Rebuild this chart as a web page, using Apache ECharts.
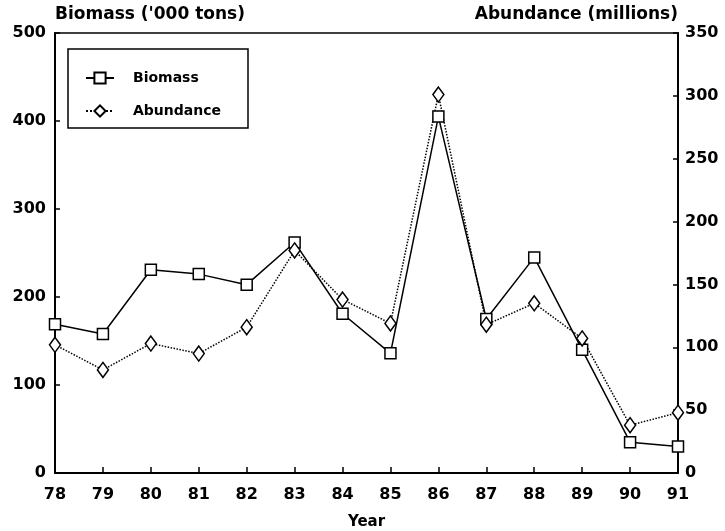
<!DOCTYPE html>
<html>
<head>
<meta charset="utf-8">
<script src="https://cdn.jsdelivr.net/npm/echarts@6/dist/echarts.min.js"></script>
<style>html,body{margin:0;padding:0;background:#fff}#c{width:725px;height:531px}</style>
</head>
<body>
<div id="c"></div>
<script>
const years = ['78','79','80','81','82','83','84','85','86','87','88','89','90','91'];
const biomass = [169, 158, 231, 226, 214, 262, 181, 136, 405, 175, 245, 140, 35, 30];
const abundance = [102, 82, 103, 95, 116, 177, 138, 119, 301, 118, 135, 107, 38, 48];
const leftTicks = [0, 100, 200, 300, 400, 500];
const rightTicks = [0, 50, 100, 150, 200, 250, 300, 350];

const FONT = 'DejaVu Sans';
const chart = echarts.init(document.getElementById('c'), null, {renderer: 'canvas'});
const lab = {color: '#000', fontFamily: FONT, fontWeight: 'bold', fontSize: 16};
chart.setOption({
  animation: false,
  backgroundColor: '#fff',
  grid: {left: 55, right: 47, top: 33, bottom: 58, show: true, borderColor: '#000', borderWidth: 1.5,
         containLabel: false, outerBoundsMode: 'none'},
  graphic: [{
    type: 'rect', shape: {x: 68, y: 49, width: 180, height: 79},
    style: {fill: 'none', stroke: '#000', lineWidth: 1.5}, z: 10
  }],
  legend: {
    left: 80, top: 66, orient: 'vertical', itemGap: 19, itemWidth: 28, itemHeight: 14,
    textStyle: {color: '#000', fontFamily: FONT, fontWeight: 'bold', fontSize: 14, padding: [0, 0, 0, 14]},
    data: ['Biomass', 'Abundance']
  },
  xAxis: {
    type: 'category', data: years, boundaryGap: false,
    name: 'Year', nameLocation: 'middle', nameGap: 42,
    nameTextStyle: {color: '#000', fontFamily: FONT, fontWeight: 'bold', fontSize: 15},
    axisLine: {lineStyle: {color: '#000', width: 2}},
    axisTick: {inside: true, length: 6, lineStyle: {color: '#000', width: 1.5}},
    axisLabel: Object.assign({margin: 14, interval: 0}, lab),
    splitLine: {show: false}
  },
  yAxis: [{
    type: 'value', min: 0, max: 500, interval: 100, position: 'left',
    name: "Biomass ('000 tons)", nameLocation: 'end', nameGap: 10,
    nameTextStyle: {color: '#000', fontFamily: FONT, fontWeight: 'bold', fontSize: 17, align: 'left'},
    axisLine: {show: true, lineStyle: {color: '#000', width: 2}},
    axisTick: {show: true, inside: true, length: 5, lineStyle: {color: '#000', width: 1.5}},
    axisLabel: Object.assign({margin: 9, customValues: leftTicks}, lab),
    splitLine: {show: false}
  }, {
    type: 'value', min: 0, max: 350, interval: 50, position: 'right',
    name: 'Abundance (millions)', nameLocation: 'end', nameGap: 10,
    nameTextStyle: {color: '#000', fontFamily: FONT, fontWeight: 'bold', fontSize: 17, align: 'right'},
    axisLine: {show: true, lineStyle: {color: '#000', width: 2}},
    axisTick: {show: true, inside: true, length: 5, lineStyle: {color: '#000', width: 1.5}},
    axisLabel: Object.assign({margin: 7, customValues: rightTicks}, lab),
    splitLine: {show: false}
  }],
  series: [{
    name: 'Biomass', type: 'line', yAxisIndex: 0, data: biomass,
    symbol: 'rect', symbolSize: 11, showAllSymbol: true,
    lineStyle: {color: '#000', width: 1.5, type: 'solid'},
    itemStyle: {color: '#fff', borderColor: '#000', borderWidth: 1.5}
  }, {
    name: 'Abundance', type: 'line', yAxisIndex: 1, data: abundance,
    symbol: 'diamond', symbolSize: [11, 15], showAllSymbol: true,
    lineStyle: {color: '#000', width: 1.5, type: 'dotted'},
    itemStyle: {color: '#fff', borderColor: '#000', borderWidth: 1.5}
  }]
});
</script>
</body>
</html>
